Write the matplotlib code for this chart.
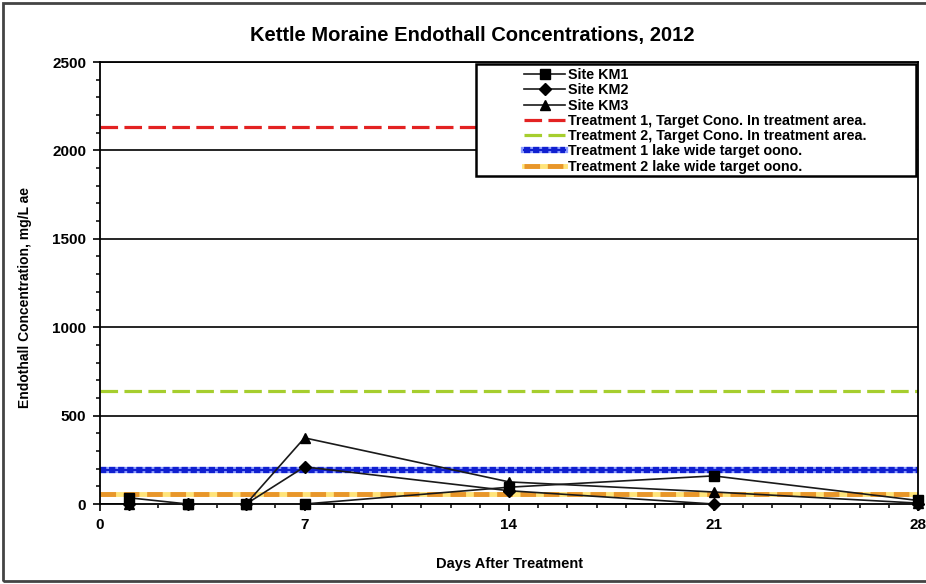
import matplotlib
matplotlib.use("Agg")
import matplotlib.pyplot as plt
from matplotlib.patches import Rectangle
from matplotlib.legend_handler import HandlerTuple

plt.rcParams['font.family'] = ['Liberation Sans', 'DejaVu Sans']
plt.rcParams['font.weight'] = 'bold'

# ---- data ----
days_km1 = [1, 3, 5, 7, 14, 21, 28]
km1 = [35, 0, 0, 0, 95, 159, 20]
days_km2 = [1, 3, 5, 7, 14, 21, 28]
km2 = [0, 0, 0, 210, 75, 0, 0]
days_km3 = [1, 3, 5, 7, 14, 21, 28]
km3 = [0, 0, 0, 374, 125, 68, 5]

t1_area = 2130
t2_area = 640
t1_lake = 190
t2_lake = 57

series_labels = ["Site KM1", "Site KM2", "Site KM3"]
ref_labels = ["Treatment 1, Target Cono. In treatment area.",
              "Treatment 2, Target Cono. In treatment area.",
              "Treatment 1 lake wide target oono.",
              "Treatment 2 lake wide target oono."]
x_ticks = [0, 7, 14, 21, 28]
y_ticks = [0, 500, 1000, 1500, 2000, 2500]

fig = plt.figure(figsize=(9.26, 5.84), dpi=100)
ax = fig.add_axes([100/926, 1-504/584, 818/926, 442/584])

xr = [0, 28]
# reference lines
ax.plot(xr, [t1_area]*2, color='#E32222', lw=2.3, dashes=(5.5, 2), zorder=2)
l_red, = ax.plot([], [], color='#E32222', lw=2.3, dashes=(5.5, 2))
ax.plot(xr, [t2_area]*2, color='#A6CE2E', lw=2.3, dashes=(5.5, 2), zorder=2)
l_green, = ax.plot([], [], color='#A6CE2E', lw=2.3, dashes=(5.5, 2))
b_bg, = ax.plot(xr, [t1_lake]*2, color='#8C9CFF', lw=4.5, zorder=2)
b_fg, = ax.plot(xr, [t1_lake]*2, color='#1020D0', lw=4.5, dashes=(1.0, 0.45), zorder=2)
b_c, = ax.plot(xr, [t1_lake]*2, color='#1020D0', lw=1.5, zorder=2)
o_bg, = ax.plot(xr, [t2_lake]*2, color='#FFE47A', lw=3.5, zorder=2)
o_fg, = ax.plot(xr, [t2_lake]*2, color='#E8962A', lw=3.5, dashes=(3.2, 1.6), zorder=2)

# series
kw = dict(color='#1a1a1a', lw=1.2, markerfacecolor='black', markeredgecolor='black')
l3, = ax.plot(days_km3, km3, marker='^', markersize=7, zorder=4, **kw)
l2, = ax.plot(days_km2, km2, marker='D', markersize=6, zorder=5, **kw)
l1, = ax.plot(days_km1, km1, marker='s', markersize=7.5, zorder=6, **kw)
for l in (l1, l2, l3):
    l.set_clip_on(False)

ax.set_xlim(0, 28)
ax.set_ylim(0, 2500)
ax.set_xticks(x_ticks)
ax.set_xticks(range(0, 29), minor=True)
ax.set_yticks(y_ticks)
ax.set_yticks(range(0, 2501, 100), minor=True)
ax.yaxis.grid(True, which='major', color='black', lw=1.2, zorder=1)
ax.set_axisbelow(True)
for s in ax.spines.values():
    s.set_color('black')
    s.set_linewidth(1.3)
ax.tick_params(axis='both', which='major', direction='out', length=5, width=1.2,
               labelsize=11, colors='black')
ax.tick_params(axis='both', which='minor', direction='out', length=3, width=1.1)
ax.tick_params(axis='x', which='major', pad=5)
ax.tick_params(axis='y', which='major', pad=5)
for lab in ax.get_xticklabels() + ax.get_yticklabels():
    lab.set_fontweight('bold')

ax.set_xlabel("Days After Treatment", fontsize=10.5, fontweight='bold', labelpad=18)
fig.text(25/926, 1-298/584, "Endothall Concentration, mg/L ae", rotation=90,
         ha='center', va='center', fontsize=10, fontweight='bold')
fig.text(0.51, 1-36/584, "Kettle Moraine Endothall Concentrations, 2012",
         ha='center', va='center', fontsize=14.5, fontweight='bold')

# legend box
box = Rectangle(((476-100)/818, (504-176)/442), (916-476)/818, (176-64)/442,
                transform=ax.transAxes, facecolor='white', edgecolor='black',
                lw=1.8, zorder=8, clip_on=False)
ax.add_patch(box)
handles = [l1, l2, l3, l_red, l_green, (b_bg, b_fg, b_c), (o_bg, o_fg)]
labels = series_labels + ref_labels
leg = ax.legend(handles, labels, loc='upper left',
                bbox_to_anchor=((524-100)/818, (504-68)/442),
                frameon=False, fontsize=10.3, handlelength=2.9, handletextpad=0.15,
                labelspacing=0.09, borderpad=0, borderaxespad=0,
                handler_map={tuple: HandlerTuple(ndivide=1)})
leg.set_zorder(9)
for t in leg.get_texts():
    t.set_fontweight('bold')

# outer border
fig.patches.append(Rectangle((3/926, 3/584), 1.0, 1-6/584, transform=fig.transFigure,
                             facecolor='none', edgecolor='#444444', lw=2))

fig.savefig("out.png", dpi=100)
